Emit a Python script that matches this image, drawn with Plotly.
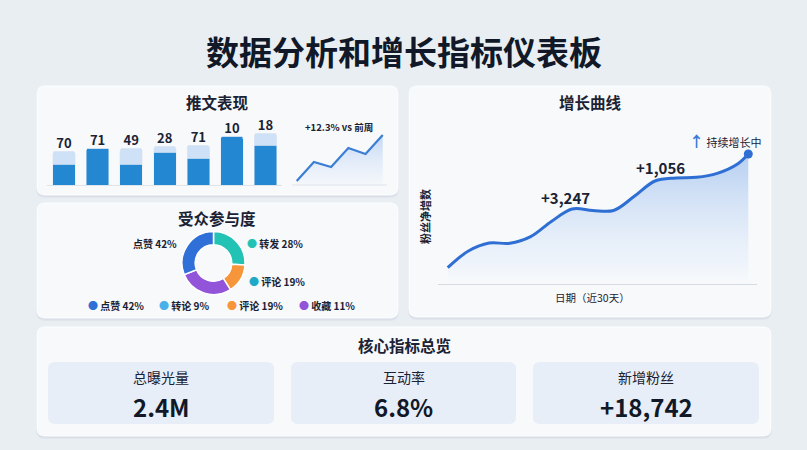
import plotly.graph_objects as go

W, H = 807, 450

# ---------------- data ----------------
tweet_ids = ["推文1", "推文2", "推文3", "推文4", "推文5", "推文6", "推文7"]
tweet_base = [21, 37, 21, 33, 27, 49, 40]
tweet_extra = [13, 0, 16, 6, 13, 0, 12]
tweet_labels = ["70", "71", "49", "28", "71", "10", "18"]

spark_x = [1, 2, 3, 4, 5, 6]
spark_values = [4, 23, 18, 37, 31, 50]

engage_labels = ["转发", "评论", "收藏", "点赞"]
engage_values = [26, 15, 28, 31]
engage_colors = ["#22c3b5", "#f7953a", "#9254d8", "#2e6fd8"]

legend_labels = ["点赞 42%", "转论 9%", "评论 19%", "收藏 11%"]
legend_colors = ["#2e6fd8", "#4ab0ea", "#f7953a", "#9254d8"]

growth_days = [1, 3, 5, 7, 9, 11, 13, 15, 17, 19, 21, 23, 25, 27, 29, 30]
growth_values = [1960, 3960, 4920, 4880, 5680, 7500, 9000, 8820, 8820,
                 10520, 12360, 12720, 12800, 13280, 14440, 15600]

kpi_names = ["总曝光量", "互动率", "新增粉丝"]
kpi_values = ["2.4M", "6.8%", "+18,742"]

FONT = "Noto Sans CJK SC, Noto Sans, sans-serif"
DARK = "#1a2233"


def px(x):
    return x / W


def py(y):
    return 1 - y / H


def rr(x0, y0, x1, y1, r):
    X0, X1 = px(x0), px(x1)
    Y0, Y1 = py(y0), py(y1)
    rx, ry = r / W, r / H
    return (f"M {X0+rx},{Y0} L {X1-rx},{Y0} Q {X1},{Y0} {X1},{Y0-ry} "
            f"L {X1},{Y1+ry} Q {X1},{Y1} {X1-rx},{Y1} L {X0+rx},{Y1} "
            f"Q {X0},{Y1} {X0},{Y1+ry} L {X0},{Y0-ry} Q {X0},{Y0} {X0+rx},{Y0} Z")


fig = go.Figure()

# ---------------- bars (推文表现) ----------------
fig.add_trace(go.Bar(x=tweet_ids, y=tweet_base, marker=dict(color="#2387d2"),
                     xaxis="x", yaxis="y", hoverinfo="skip"))
fig.add_trace(go.Bar(x=tweet_ids, y=tweet_extra, marker=dict(color="#cfe1f7"),
                     xaxis="x", yaxis="y", hoverinfo="skip"))
fig.add_trace(go.Scatter(x=tweet_ids, y=[b + e for b, e in zip(tweet_base, tweet_extra)],
                         mode="text", text=tweet_labels, textposition="top center",
                         textfont=dict(size=13, color=DARK, family=FONT, weight="bold"),
                         xaxis="x", yaxis="y", hoverinfo="skip"))

# ---------------- sparkline ----------------
fig.add_trace(go.Scatter(x=spark_x, y=spark_values, mode="lines",
                         line=dict(color="#3a7fd4", width=2.2),
                         fill="tozeroy",
                         fillgradient=dict(type="vertical", start=0, stop=max(spark_values),
                                           colorscale=[[0, "rgba(215,228,248,0.1)"],
                                                       [1, "rgba(190,212,245,0.9)"]]),
                         xaxis="x2", yaxis="y2", hoverinfo="skip"))

# ---------------- donut ----------------
fig.add_trace(go.Pie(values=engage_values, labels=engage_labels, hole=0.58,
                     sort=False, direction="clockwise", rotation=0,
                     marker=dict(colors=engage_colors, line=dict(color="white", width=1.5)),
                     textinfo="none", hoverinfo="label+percent",
                     domain=dict(x=[px(182), px(245)], y=[py(295), py(231)])))

# ---------------- growth curve ----------------
fig.add_trace(go.Scatter(x=growth_days, y=growth_values, mode="lines",
                         line=dict(shape="spline", smoothing=1.0, color="#2f6fd3", width=3),
                         fill="tozeroy",
                         fillgradient=dict(type="vertical", start=0, stop=max(growth_values),
                                           colorscale=[[0, "rgba(235,242,251,0.0)"],
                                                       [0.15, "rgba(225,236,250,0.4)"],
                                                       [1, "rgba(178,204,240,0.95)"]]),
                         xaxis="x3", yaxis="y3", hoverinfo="skip"))
fig.add_trace(go.Scatter(x=[growth_days[-1]], y=[growth_values[-1]], mode="markers",
                         marker=dict(size=9, color="#2f6fd3"),
                         xaxis="x3", yaxis="y3", hoverinfo="skip"))

# ---------------- shapes (panels) ----------------
shapes = []
panels = [(37, 86, 398, 195), (37, 203, 398, 318), (409, 86, 771, 317), (37, 327, 771, 436)]
for (x0, y0, x1, y1) in panels:
    shapes.append(dict(type="path", path=rr(x0 - 1, y0, x1 + 1, y1 + 3, 9), xref="paper", yref="paper",
                       fillcolor="rgba(70,90,130,0.05)", line=dict(width=0), layer="below"))
    shapes.append(dict(type="path", path=rr(x0, y0, x1, y1 + 1.5, 8), xref="paper", yref="paper",
                       fillcolor="rgba(70,90,130,0.07)", line=dict(width=0), layer="below"))
    shapes.append(dict(type="path", path=rr(x0, y0, x1, y1, 8), xref="paper", yref="paper",
                       fillcolor="#f7f9fb", line=dict(width=1, color="rgba(255,255,255,0.9)"),
                       layer="below"))
kpi_boxes = [(48, 362, 274, 424), (291, 362, 516, 424), (533, 362, 759, 424)]
for (x0, y0, x1, y1) in kpi_boxes:
    shapes.append(dict(type="path", path=rr(x0, y0, x1, y1, 7), xref="paper", yref="paper",
                       fillcolor="#e7eef8", line=dict(width=0), layer="below"))
# sparkline baseline
shapes.append(dict(type="line", xref="paper", yref="paper", x0=px(292), x1=px(387),
                   y0=py(185), y1=py(185), line=dict(color="#dfe3ea", width=1), layer="below"))

# ---------------- annotations ----------------
ann = []


def text(x, y, s, size, bold=False, color=DARK, anchor="center", angle=0):
    ann.append(dict(x=px(x), y=py(y), xref="paper", yref="paper", text=s, showarrow=False,
                    xanchor=anchor, yanchor="middle", textangle=angle,
                    font=dict(size=size, color=color, family=FONT,
                              weight="bold" if bold else "normal")))


text(403.5, 51, "数据分析和增长指标仪表板", 33, True, "#111827")
text(217, 102, "推文表现", 15.5, True)
text(339, 127, "+12.3% vs 前周", 9.5, True)
text(217.5, 218, "受众参与度", 15.5, True)
text(590, 102, "增长曲线", 15.5, True)
text(404, 345, "核心指标总览", 15.5, True)

# donut side labels
text(179, 243, "点赞 42%", 10, True)
ann[-1]["xanchor"] = "right"
text(245, 243, "<span style='color:#22c3b5'>●</span> 转发 28%", 10, True, anchor="left")
text(247, 281, "<span style='color:#1fa9c9'>●</span> 评论 19%", 10, True, anchor="left")

legend_x = [86, 157, 225, 297]
for lx, lab, col in zip(legend_x, legend_labels, legend_colors):
    text(lx, 305, f"<span style='color:{col}'>●</span> {lab}", 10, True, anchor="left")

# growth annotations
text(565, 197, "+3,247", 15, True)
text(660, 167, "+1,056", 15, True)
text(687, 140, "<span style='color:#3b7ad8;font-weight:bold;font-size:15px'>↑</span> 持续增长中",
     11, False, anchor="left")
text(425, 217, "粉丝净增数", 11, True, angle=-90)
text(592, 297, "日期（近30天）", 10.5, False)

# KPI texts
for (x0, y0, x1, y1), name, val in zip(kpi_boxes, kpi_names, kpi_values):
    cx = (x0 + x1) / 2
    text(cx, 377, name, 14, False)
    text(cx, 406, val, 24, True, "#111827")

hidden = dict(showgrid=False, zeroline=False, showticklabels=False, ticks="", fixedrange=True)

fig.update_layout(
    width=W, height=H, autosize=False,
    margin=dict(l=0, r=0, t=0, b=0),
    paper_bgcolor="#e9eef3", plot_bgcolor="rgba(0,0,0,0)",
    showlegend=False, barmode="stack", bargap=0.33, barcornerradius=3,
    font=dict(family=FONT, color=DARK),
    xaxis=dict(domain=[px(47.2), px(282.3)], range=[-0.5, 6.5], type="category",
               showline=True, linecolor="#dfe3ea", linewidth=1, anchor="y", **hidden),
    yaxis=dict(domain=[py(185), py(120)], range=[0, 65], anchor="x", showline=False, **hidden),
    xaxis2=dict(domain=[px(292.7), px(386)], range=[0.767, 6.19], anchor="y2",
                showline=False, **hidden),
    yaxis2=dict(domain=[py(185), py(130)], range=[0, 55], anchor="x2", showline=False, **hidden),
    xaxis3=dict(domain=[px(438), px(757)], range=[0.064, 30.84], anchor="y3",
                showline=True, linecolor="#d5dbe3", linewidth=1, **hidden),
    yaxis3=dict(domain=[py(284), py(134)], range=[0, 18000], anchor="x3", showline=False, **hidden),
    shapes=shapes, annotations=ann,
)

fig.write_html("out.html", config={"displayModeBar": False},
               post_script="document.body.style.margin='0';document.body.style.padding='0';"
                           "document.body.style.background='#e9eef3';")
